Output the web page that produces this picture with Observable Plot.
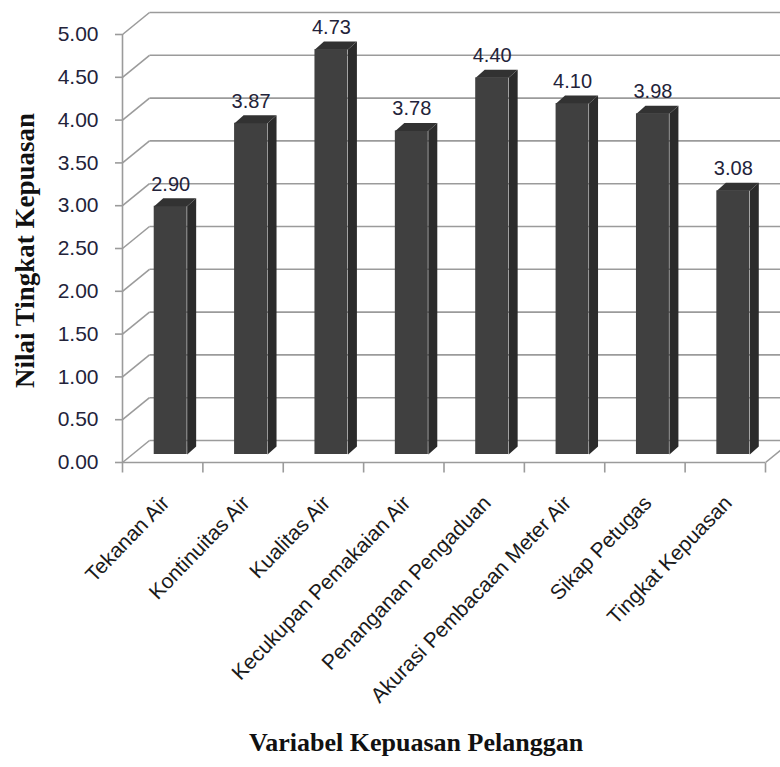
<!DOCTYPE html>
<html><head><meta charset="utf-8">
<script src="https://cdn.jsdelivr.net/npm/d3@7"></script>
<script src="https://cdn.jsdelivr.net/npm/@observablehq/plot@0.6"></script>
<style>html,body{margin:0;padding:0;background:#fff;overflow:hidden} #chart svg{overflow:hidden;display:block}</style>
</head><body><div id="chart"></div>
<script>
const categories = ["Tekanan Air","Kontinuitas Air","Kualitas Air","Kecukupan Pemakaian Air","Penanganan Pengaduan","Akurasi Pembacaan Meter Air","Sikap Petugas","Tingkat Kepuasan"];
const values = [2.90, 3.87, 4.73, 3.78, 4.40, 4.10, 3.98, 3.08];
const valueLabels = ["2.90","3.87","4.73","3.78","4.40","4.10","3.98","3.08"];
const yTicks = [0, 0.5, 1, 1.5, 2, 2.5, 3, 3.5, 4, 4.5, 5];
const yTickLabels = ["0.00","0.50","1.00","1.50","2.00","2.50","3.00","3.50","4.00","4.50","5.00"];
const yTitle = "Nilai Tingkat Kepuasan";
const xTitle = "Variabel Kepuasan Pelanggan";

// layout (px)
const W = 780, H = 767, mL = 122, mR = 15, mT = 34, mB = 305;
const n = categories.length;
const yMax = 5;
const pxX = (W - mL - mR) / n;
const pxY = (H - mT - mB) / yMax;
const wall = {dx: 27, dy: -22};     // depth of the back wall
const barFront = {dx: 8, dy: -8};   // bar front-face depth
const barDepth = {dx: 9, dy: -8};   // bar thickness
const barWidth = 0.41;              // fraction of category band

const wx = wall.dx / pxX, wy = -wall.dy / pxY;
const bx = barDepth.dx / pxX, by = -barDepth.dy / pxY;

const rows = categories.map((c, i) => ({c, i, v: values[i], label: valueLabels[i],
  x1: i + 0.5 - barWidth / 2, x2: i + 0.5 + barWidth / 2}));
const sides = rows.flatMap(d => [
  {c: d.c, x: d.x2, y: 0}, {c: d.c, x: d.x2, y: d.v},
  {c: d.c, x: d.x2 + bx, y: d.v + by}, {c: d.c, x: d.x2 + bx, y: by}]);
const tops = rows.flatMap(d => [
  {c: d.c, x: d.x1, y: d.v}, {c: d.c, x: d.x2, y: d.v},
  {c: d.c, x: d.x2 + bx, y: d.v + by}, {c: d.c, x: d.x1 + bx, y: d.v + by}]);

const grid = "#9b9b9b";
const chart = Plot.plot({
  width: W, height: H,
  marginLeft: mL, marginRight: mR, marginTop: mT, marginBottom: mB,
  style: {fontFamily: "'Liberation Sans', Arial, sans-serif", background: "#fff", overflow: "hidden"},
  x: {domain: [0, n], axis: null},
  y: {domain: [0, yMax], axis: null, label: null},
  marks: [
    // back wall gridlines
    Plot.link(yTicks, {x1: wx, x2: n + wx + 1, y1: d => d + wy, y2: d => d + wy, stroke: grid, strokeWidth: 1.6}),
    // left side wall diagonals
    Plot.link(yTicks, {x1: 0, x2: wx, y1: d => d, y2: d => d + wy, stroke: grid, strokeWidth: 1.6}),
    // floor right edge
    Plot.link([0], {x1: n, x2: n + wx, y1: 0, y2: wy, stroke: grid, strokeWidth: 1.6}),
    // floor front edge
    Plot.ruleY([0], {x1: 0, x2: n, stroke: grid, strokeWidth: 1.6}),
    // vertical axis line
    Plot.ruleX([0], {y1: 0, y2: yMax, stroke: grid, strokeWidth: 1.6}),
    // category ticks
    Plot.link(d3.range(n + 1), {x1: d => d, x2: d => d, y1: 0, y2: -10 / pxY, stroke: grid, strokeWidth: 1.6}),
    // y axis ticks + labels
    Plot.axisY(yTicks, {tickFormat: d => yTickLabels[yTicks.indexOf(d)], tickSize: 7, tickPadding: 17,
      fontSize: 21, stroke: grid, strokeWidth: 1.6, fill: "#23233a", label: null}),
    // bars
    Plot.rect(rows, {x1: "x1", x2: "x2", y1: 0, y2: "v", fill: "#404040", dx: barFront.dx, dy: barFront.dy}),
    Plot.line(sides, {x: "x", y: "y", z: "c", fill: "#2b2b2b", stroke: "none", dx: barFront.dx, dy: barFront.dy}),
    Plot.line(tops, {x: "x", y: "y", z: "c", fill: "#323232", stroke: "none", dx: barFront.dx, dy: barFront.dy}),
    // value labels
    Plot.text(rows, {x: d => d.i + 0.5, y: "v", text: "label", dx: barFront.dx, dy: -30, fontSize: 20, fill: "#23233a"}),
    // category labels
    Plot.text(rows, {x: d => d.i + 0.5, y: 0, text: "c", rotate: -46, textAnchor: "end", dx: 3, dy: 37, fontSize: 21, fill: "#1a1a1a"}),
    // axis titles
    Plot.text([yTitle], {text: d => d, frameAnchor: "left", textAnchor: "middle", rotate: -90, dx: -97, dy: 2, fontSize: 27,
      fontFamily: "'Liberation Serif', 'Times New Roman', serif", fontWeight: "bold", fill: "#111"}),
    Plot.text([xTitle], {text: d => d, frameAnchor: "bottom", textAnchor: "middle", dx: -28, dy: 288, fontSize: 26,
      fontFamily: "'Liberation Serif', 'Times New Roman', serif", fontWeight: "bold", fill: "#111"})
  ]
});
document.getElementById("chart").appendChild(chart);
</script>
</body></html>
